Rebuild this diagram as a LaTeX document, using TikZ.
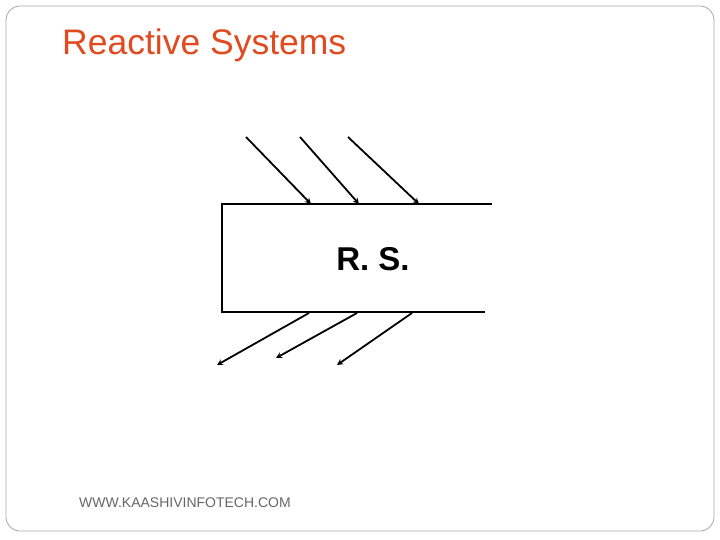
\documentclass[tikz,border=0pt]{standalone}
\usepackage{fontspec}
\setmainfont{Liberation Sans}
\usetikzlibrary{arrows.meta}
\definecolor{titlered}{HTML}{E04A1E}
\begin{document}
\begin{tikzpicture}[x=1pt,y=-1pt,
  edge/.style={line width=2pt},
  arr/.style={line width=1.8pt,-{Stealth[length=6pt,width=6pt]}}]
\useasboundingbox (0,0) rectangle (720,540);
\draw[gray!70,line width=0.8pt,rounded corners=14pt] (6,6) rectangle (714,531);
\node[anchor=west,inner sep=0pt,text=titlered,font=\fontsize{35.5}{40}\selectfont] (title) at (62,45) {Reactive Systems};
\coordinate (tl) at (222,204); \coordinate (tr) at (492,204);
\coordinate (bl) at (222,312); \coordinate (br) at (485,312);
\draw[edge] (tr) -- (tl) -- (bl) -- (br);
\node[font=\fontsize{33}{36}\selectfont\bfseries] (rs) at (373,259) {R. S.};
\coordinate (i1) at (246,137); \coordinate (j1) at (311,204);
\coordinate (i2) at (300,137); \coordinate (j2) at (359,204);
\coordinate (i3) at (348,137); \coordinate (j3) at (419,204);
\draw[arr] (i1) -- (j1); \draw[arr] (i2) -- (j2); \draw[arr] (i3) -- (j3);
\coordinate (o1) at (309,313); \coordinate (p1) at (217,365);
\coordinate (o2) at (357,313); \coordinate (p2) at (276,358);
\coordinate (o3) at (412,313); \coordinate (p3) at (337,365);
\draw[arr] (o1) -- (p1); \draw[arr] (o2) -- (p2); \draw[arr] (o3) -- (p3);
\node[anchor=west,inner sep=0pt,text=gray!80!black,font=\fontsize{14}{16}\selectfont] (foot) at (79,503) {WWW.KAASHIVINFOTECH.COM};
\end{tikzpicture}
\end{document}
